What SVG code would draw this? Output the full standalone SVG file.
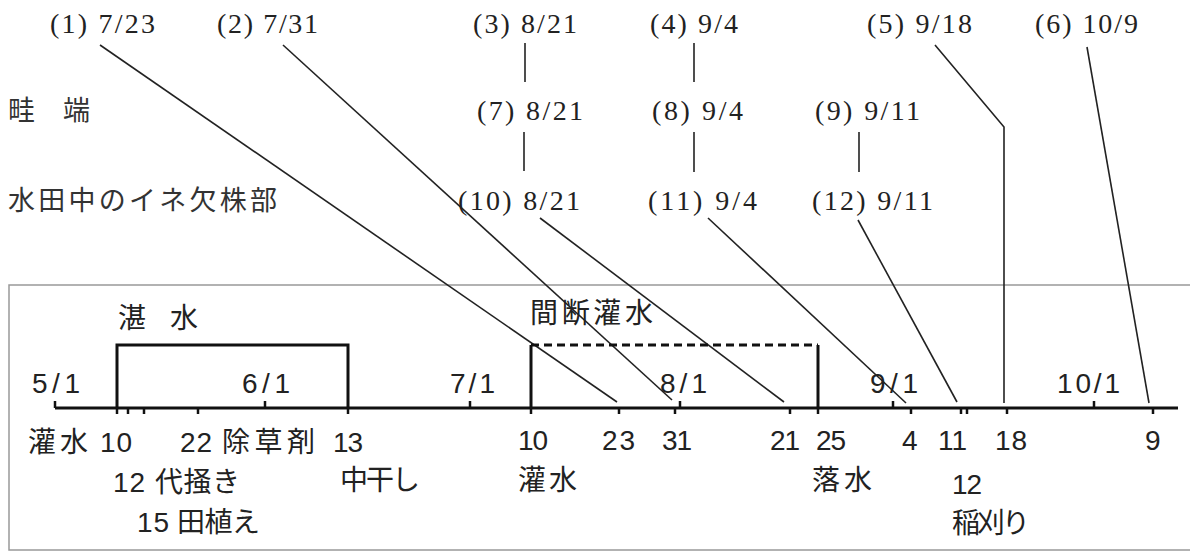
<svg xmlns="http://www.w3.org/2000/svg" width="1190" height="553" viewBox="0 0 1190 553">
<style>
.bg{fill:#fff}
.frame{fill:none;stroke:#999;stroke-width:1.5}
.ser{font-family:"Liberation Serif","Noto Sans CJK JP",serif;font-size:28px;fill:#222}
.cjk{font-family:"Noto Sans CJK JP","Liberation Sans",sans-serif;font-size:27px;fill:#333}
.san{font-family:"Liberation Sans","Noto Sans CJK JP",sans-serif;font-size:28px;fill:#222}
.thin{fill:none;stroke:#222;stroke-width:1.6}
.thick{fill:none;stroke:#111;stroke-width:3}
.dash{fill:none;stroke:#111;stroke-width:3;stroke-dasharray:8 5}
.tick{stroke:#111;stroke-width:2.5}
</style>
<rect class="bg" x="0" y="0" width="1190" height="553"/>
<rect class="frame" x="9" y="285" width="1190" height="265"/>

<g id="row-labels">
<text class="cjk" x="8" y="120" textLength="82" lengthAdjust="spacing">畦 端</text>
<text class="cjk" x="8" y="210" textLength="269" lengthAdjust="spacing">水田中のイネ欠株部</text>
</g>

<g id="n1"><text class="ser" x="50" y="33" textLength="105" lengthAdjust="spacing">(1) 7/23</text></g>
<g id="n2"><text class="ser" x="217" y="33" textLength="101" lengthAdjust="spacing">(2) 7/31</text></g>
<g id="n3"><text class="ser" x="473" y="33" textLength="104" lengthAdjust="spacing">(3) 8/21</text></g>
<g id="n4"><text class="ser" x="650" y="33" textLength="88" lengthAdjust="spacing">(4) 9/4</text></g>
<g id="n5"><text class="ser" x="867" y="33" textLength="105" lengthAdjust="spacing">(5) 9/18</text></g>
<g id="n6"><text class="ser" x="1035" y="33" textLength="103" lengthAdjust="spacing">(6) 10/9</text></g>
<g id="n7"><text class="ser" x="477" y="120" textLength="106" lengthAdjust="spacing">(7) 8/21</text></g>
<g id="n8"><text class="ser" x="652" y="120" textLength="91" lengthAdjust="spacing">(8) 9/4</text></g>
<g id="n9"><text class="ser" x="815" y="120" textLength="105" lengthAdjust="spacing">(9) 9/11</text></g>
<g id="n10"><text class="ser" x="458" y="210" textLength="122" lengthAdjust="spacing">(10) 8/21</text></g>
<g id="n11"><text class="ser" x="648" y="210" textLength="109" lengthAdjust="spacing">(11) 9/4</text></g>
<g id="n12"><text class="ser" x="812" y="210" textLength="121" lengthAdjust="spacing">(12) 9/11</text></g>

<g id="connectors">
<line class="thin" x1="525" y1="43" x2="525" y2="82"/>
<line class="thin" x1="524" y1="132" x2="524" y2="171"/>
<line class="thin" x1="694" y1="43" x2="694" y2="82"/>
<line class="thin" x1="694" y1="132" x2="694" y2="172"/>
<line class="thin" x1="859" y1="132" x2="859" y2="172"/>
<line class="thin" x1="100" y1="45" x2="617" y2="402"/>
<line class="thin" x1="283" y1="45" x2="672" y2="400"/>
<line class="thin" x1="540" y1="218" x2="784" y2="402"/>
<line class="thin" x1="708" y1="218" x2="906" y2="403"/>
<line class="thin" x1="858" y1="220" x2="957" y2="402"/>
<polyline class="thin" points="935,45 1004,127 1004,403"/>
<line class="thin" x1="1087" y1="47" x2="1149" y2="403"/>
</g>

<g id="timeline">
<path class="thick" d="M117,408 V345 H348 V408"/>
<path class="thick" d="M531,408 V345"/>
<path class="dash" d="M531,345 H818"/>
<path class="thick" d="M818,345 V408"/>
<line class="thick" x1="55" y1="408" x2="1178" y2="408"/>
<g class="tick">
<line x1="55" y1="401" x2="55" y2="408"/>
<line x1="265" y1="401" x2="265" y2="408"/>
<line x1="470" y1="401" x2="470" y2="408"/>
<line x1="680" y1="401" x2="680" y2="408"/>
<line x1="893" y1="401" x2="893" y2="408"/>
<line x1="1094" y1="401" x2="1094" y2="408"/>
<line x1="117" y1="408" x2="117" y2="414"/>
<line x1="128" y1="408" x2="128" y2="414"/>
<line x1="144" y1="408" x2="144" y2="414"/>
<line x1="198" y1="408" x2="198" y2="414"/>
<line x1="348" y1="408" x2="348" y2="414"/>
<line x1="531" y1="408" x2="531" y2="414"/>
<line x1="619" y1="408" x2="619" y2="414"/>
<line x1="675" y1="408" x2="675" y2="414"/>
<line x1="790" y1="408" x2="790" y2="414"/>
<line x1="818" y1="408" x2="818" y2="414"/>
<line x1="911" y1="408" x2="911" y2="414"/>
<line x1="961" y1="408" x2="961" y2="414"/>
<line x1="967" y1="408" x2="967" y2="414"/>
<line x1="1007" y1="408" x2="1007" y2="414"/>
<line x1="1153" y1="408" x2="1153" y2="414"/>
</g>
</g>

<g id="period-labels">
<text class="san" x="118" y="328" textLength="80" lengthAdjust="spacing">湛 水</text>
<text class="san" x="530" y="323" textLength="123" lengthAdjust="spacing">間断灌水</text>
</g>

<g id="month-labels">
<text class="san" x="32" y="393" textLength="48" lengthAdjust="spacing">5/1</text>
<text class="san" x="242" y="393" textLength="48" lengthAdjust="spacing">6/1</text>
<text class="san" x="450" y="393" textLength="45" lengthAdjust="spacing">7/1</text>
<text class="san" x="660" y="393" textLength="47" lengthAdjust="spacing">8/1</text>
<text class="san" x="870" y="393" textLength="48" lengthAdjust="spacing">9/1</text>
<text class="san" x="1057" y="393" textLength="63" lengthAdjust="spacing">10/1</text>
</g>

<g id="event-labels">
<text class="san" x="28" y="452" textLength="60" lengthAdjust="spacing">灌水</text>
<text class="san" x="100" y="452" textLength="32" lengthAdjust="spacing">10</text>
<text class="san" x="180" y="452" textLength="32" lengthAdjust="spacing">22</text>
<text class="san" x="222" y="452" textLength="93" lengthAdjust="spacing">除草剤</text>
<text class="san" x="333" y="452" textLength="30" lengthAdjust="spacing">13</text>
<text class="san" x="113" y="492" textLength="32" lengthAdjust="spacing">12</text>
<text class="san" x="155" y="492" textLength="85" lengthAdjust="spacing">代掻き</text>
<text class="san" x="137" y="532" textLength="32" lengthAdjust="spacing">15</text>
<text class="san" x="177" y="532" textLength="83" lengthAdjust="spacing">田植え</text>
<text class="san" x="340" y="490" textLength="80" lengthAdjust="spacing">中干し</text>
<text class="san" x="518" y="450" textLength="30" lengthAdjust="spacing">10</text>
<text class="san" x="518" y="490" textLength="59" lengthAdjust="spacing">灌水</text>
<text class="san" x="602" y="450" textLength="33" lengthAdjust="spacing">23</text>
<text class="san" x="662" y="450" textLength="30" lengthAdjust="spacing">31</text>
<text class="san" x="770" y="450" textLength="30" lengthAdjust="spacing">21</text>
<text class="san" x="816" y="450" textLength="30" lengthAdjust="spacing">25</text>
<text class="san" x="812" y="490" textLength="60" lengthAdjust="spacing">落水</text>
<text class="san" x="902" y="450">4</text>
<text class="san" x="938" y="450" textLength="29" lengthAdjust="spacing">11</text>
<text class="san" x="995" y="450" textLength="32" lengthAdjust="spacing">18</text>
<text class="san" x="1145" y="450">9</text>
<text class="san" x="952" y="494" textLength="30" lengthAdjust="spacing">12</text>
<text class="san" x="952" y="533" textLength="78" lengthAdjust="spacing">稲刈り</text>
</g>
</svg>
